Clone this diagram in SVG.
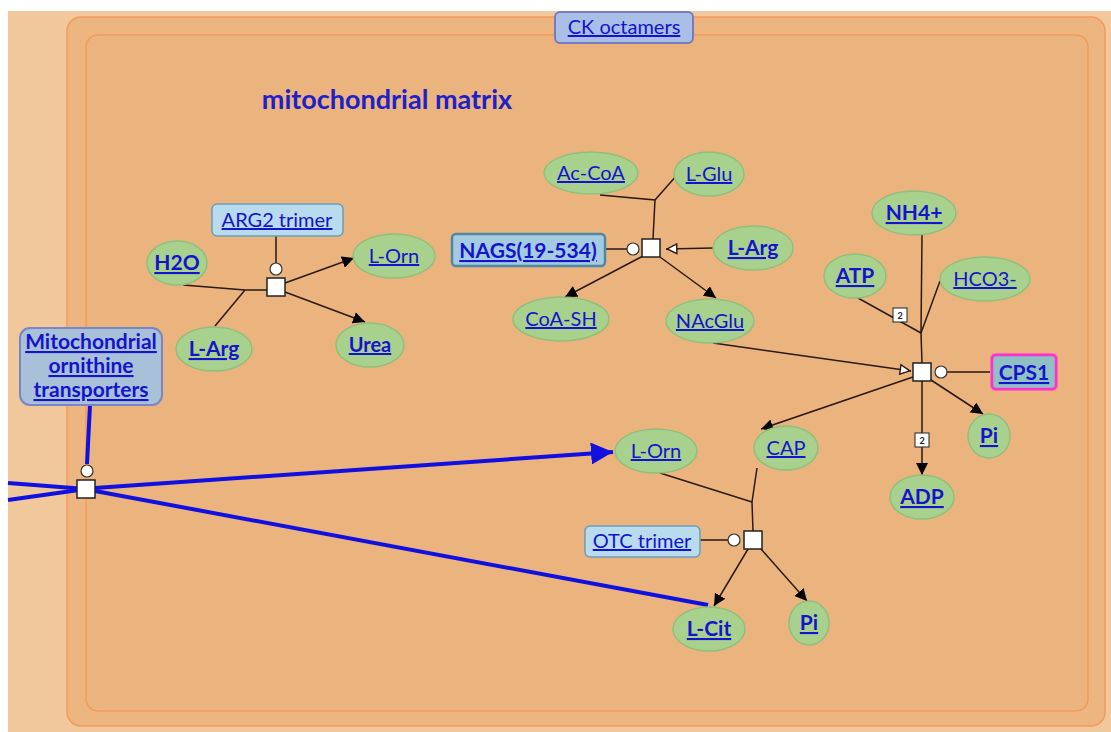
<svg xmlns="http://www.w3.org/2000/svg" width="1111" height="732" viewBox="0 0 1111 732">
  <style>
    text { font-family: Lato, "Liberation Sans", sans-serif; fill: #1414cc; text-decoration: underline; text-anchor: middle; font-size: 20px; }
    .b { font-weight: bold; font-size: 21px; }
    .sp { fill: #a9d18e; stroke: #8fbf7c; stroke-width: 1.5; }
    .cx { fill: #b9dbee; stroke: #6b9cb8; stroke-width: 1.5; }
    .pr { fill: #ffffff; stroke: #222222; stroke-width: 1.5; }
    .md { fill: #ffffff; stroke: #333333; stroke-width: 1.2; }
    .ln { stroke: #2a1a10; stroke-width: 1.5; fill: none; }
    .bl { stroke: #1010e0; stroke-width: 4; fill: none; }
    .st { fill: #ffffff; stroke: #222222; stroke-width: 1; }
    .stt { font-size: 9px; font-weight: bold; fill: #222222; text-decoration: none; }
  </style>
  <defs>
    <marker id="prod" viewBox="0 0 10 10" refX="10" refY="5" markerWidth="12" markerHeight="12" markerUnits="userSpaceOnUse" orient="auto">
      <path d="M0,0 L10,5 L0,10 Z" fill="#000000"/>
    </marker>
    <marker id="inh" viewBox="0 0 10 10" refX="10" refY="5" markerWidth="12" markerHeight="12" markerUnits="userSpaceOnUse" orient="auto">
      <path d="M1,1 L9,5 L1,9 Z" fill="#ffffff" stroke="#2a1a10" stroke-width="1.2"/>
    </marker>
    <marker id="blue" viewBox="0 0 10 10" refX="10" refY="5" markerWidth="22" markerHeight="22" markerUnits="userSpaceOnUse" orient="auto">
      <path d="M0,0 L10,5 L0,10 Z" fill="#1010e0"/>
    </marker>
  </defs>

  <!-- page -->
  <rect x="0" y="0" width="1111" height="732" fill="#ffffff"/>
  <rect x="8" y="11" width="1103" height="721" fill="#f0c89b"/>

  <!-- compartments -->
  <rect x="67" y="17" width="1038" height="709" rx="14" fill="#edb680" stroke="#f29a5c" stroke-width="1.5"/>
  <rect x="86" y="35" width="1002" height="676" rx="12" fill="#ebb47e" stroke="#f29a5c" stroke-width="1.5"/>
  <text x="387" y="109" class="b" style="font-size:27px;text-decoration:none;fill:#2020c8">mitochondrial matrix</text>

  <g id="ck-octamers">
    <rect x="555" y="12" width="138" height="31" rx="5" fill="#a9bfe6" stroke="#7a7ac0" stroke-width="2"/>
    <text x="624" y="34">CK octamers</text>
  </g>

  <!-- connectors -->
  <g id="connectors">
    <!-- ARG2 reaction -->
    <line class="ln" x1="276" y1="236" x2="276" y2="263"/>
    <polyline class="ln" points="183,285 245,290 267,290"/>
    <line class="ln" x1="215" y1="326" x2="245" y2="290"/>
    <line class="ln" x1="285" y1="283" x2="354" y2="258" marker-end="url(#prod)"/>
    <line class="ln" x1="285" y1="292" x2="365" y2="322" marker-end="url(#prod)"/>

    <!-- NAGS reaction -->
    <polyline class="ln" points="600,195 655,200 653,239"/>
    <line class="ln" x1="677" y1="175" x2="655" y2="200"/>
    <line class="ln" x1="605" y1="249" x2="627" y2="249"/>
    <line class="ln" x1="713" y1="248" x2="666" y2="249" marker-end="url(#inh)"/>
    <line class="ln" x1="643" y1="256" x2="565" y2="297" marker-end="url(#prod)"/>
    <line class="ln" x1="660" y1="257" x2="716" y2="298" marker-end="url(#prod)"/>

    <!-- CPS1 reaction -->
    <line class="ln" x1="922" y1="235" x2="921" y2="333"/>
    <line class="ln" x1="940" y1="281" x2="921" y2="333"/>
    <line class="ln" x1="858" y1="298" x2="921" y2="333"/>
    <line class="ln" x1="921" y1="333" x2="922" y2="363"/>
    <line class="ln" x1="713" y1="343" x2="911" y2="371" marker-end="url(#inh)"/>
    <line class="ln" x1="947" y1="372" x2="990" y2="372"/>
    <line class="ln" x1="913" y1="377" x2="761" y2="429" marker-end="url(#prod)"/>
    <line class="ln" x1="922" y1="381" x2="922" y2="475" marker-end="url(#prod)"/>
    <line class="ln" x1="931" y1="380" x2="983" y2="414" marker-end="url(#prod)"/>

    <!-- OTC reaction -->
    <polyline class="ln" points="757,468 752,502 753,531"/>
    <line class="ln" x1="660" y1="473" x2="752" y2="502"/>
    <line class="ln" x1="700" y1="540" x2="728" y2="540"/>
    <line class="ln" x1="748" y1="549" x2="714" y2="606" marker-end="url(#prod)"/>
    <line class="ln" x1="761" y1="549" x2="807" y2="601" marker-end="url(#prod)"/>

    <!-- ornithine / citrulline transport -->
    <line class="bl" x1="90" y1="405" x2="87" y2="464"/>
    <line class="bl" x1="8" y1="483" x2="86" y2="489"/>
    <line class="bl" x1="8" y1="500" x2="86" y2="489"/>
    <line class="bl" x1="95" y1="488" x2="613" y2="452" marker-end="url(#blue)"/>
    <line class="bl" x1="95" y1="491" x2="708" y2="605"/>
  </g>

  <!-- stoichiometry tags -->
  <g id="stoich">
    <rect class="st" x="893" y="308" width="14" height="14"/>
    <text class="stt" x="900" y="318.5">2</text>
    <rect class="st" x="915" y="433" width="14" height="14"/>
    <text class="stt" x="922" y="443.5">2</text>
  </g>

  <!-- process nodes and modifiers -->
  <g id="proc-arg2"><circle class="md" cx="276" cy="269" r="6"/><rect class="pr" x="267" y="278" width="18" height="18"/></g>
  <g id="proc-nags"><circle class="md" cx="633" cy="249" r="6"/><rect class="pr" x="642" y="239" width="18" height="18"/></g>
  <g id="proc-cps1"><circle class="md" cx="941" cy="372" r="6"/><rect class="pr" x="913" y="363" width="18" height="18"/></g>
  <g id="proc-otc"><circle class="md" cx="734" cy="540" r="6"/><rect class="pr" x="744" y="531" width="18" height="18"/></g>
  <g id="proc-transport"><circle class="md" cx="87" cy="471" r="6"/><rect class="pr" x="77" y="480" width="18" height="18"/></g>

  <!-- complexes / proteins -->
  <g id="arg2-trimer">
    <rect class="cx" x="212" y="204" width="131" height="32" rx="5"/>
    <text x="277" y="227">ARG2 trimer</text>
  </g>
  <g id="nags">
    <rect x="452" y="234" width="153" height="32" rx="4" fill="#a4cbe0" stroke="#4f88a4" stroke-width="2.5"/>
    <text x="528" y="258" class="b">NAGS(19-534)</text>
  </g>
  <g id="cps1">
    <rect x="990" y="353" width="68" height="38" rx="5" fill="#ff40d8" opacity="0.45"/>
    <rect x="992" y="355" width="64" height="34" rx="4" fill="#8fc0c4" stroke="#ff30d0" stroke-width="2.5"/>
    <text x="1024" y="380" class="b">CPS1</text>
  </g>
  <g id="otc-trimer">
    <rect class="cx" x="585" y="526" width="115" height="31" rx="5"/>
    <text x="642" y="548">OTC trimer</text>
  </g>
  <g id="orn-transporters">
    <rect x="20" y="328" width="142" height="77" rx="10" fill="#a9c0d9" stroke="#7a86c4" stroke-width="2"/>
    <text x="91" y="349" class="b">Mitochondrial</text>
    <text x="91" y="373" class="b">ornithine</text>
    <text x="91" y="397" class="b">transporters</text>
  </g>

  <!-- simple chemicals -->
  <g id="h2o"><ellipse class="sp" cx="177" cy="263" rx="30" ry="22"/><text x="177" y="270" class="b">H2O</text></g>
  <g id="l-arg-1"><ellipse class="sp" cx="214" cy="349" rx="38" ry="22"/><text x="214" y="356" class="b">L-Arg</text></g>
  <g id="l-orn-1"><ellipse class="sp" cx="394" cy="256" rx="41" ry="22"/><text x="394" y="263">L-Orn</text></g>
  <g id="urea"><ellipse class="sp" cx="370" cy="345" rx="34" ry="22"/><text x="370" y="352" class="b" style="font-size:20px">Urea</text></g>

  <g id="ac-coa"><ellipse class="sp" cx="591" cy="173" rx="47" ry="21"/><text x="591" y="180">Ac-CoA</text></g>
  <g id="l-glu"><ellipse class="sp" cx="709" cy="174" rx="35" ry="22"/><text x="709" y="181">L-Glu</text></g>
  <g id="l-arg-2"><ellipse class="sp" cx="753" cy="248" rx="40" ry="22"/><text x="753" y="255" class="b">L-Arg</text></g>
  <g id="coa-sh"><ellipse class="sp" cx="561" cy="319" rx="48" ry="22"/><text x="561" y="326">CoA-SH</text></g>
  <g id="nacglu"><ellipse class="sp" cx="710" cy="321" rx="44" ry="22"/><text x="710" y="328">NAcGlu</text></g>

  <g id="nh4"><ellipse class="sp" cx="914" cy="213" rx="42" ry="22"/><text x="914" y="220" class="b">NH4+</text></g>
  <g id="atp"><ellipse class="sp" cx="855" cy="276" rx="31" ry="22"/><text x="855" y="283" class="b">ATP</text></g>
  <g id="hco3"><ellipse class="sp" cx="985" cy="279" rx="45" ry="22"/><text x="985" y="286">HCO3-</text></g>
  <g id="pi-1"><ellipse class="sp" cx="989" cy="436" rx="21" ry="22"/><text x="989" y="443" class="b">Pi</text></g>
  <g id="adp"><ellipse class="sp" cx="922" cy="497" rx="32" ry="22"/><text x="922" y="504" class="b">ADP</text></g>
  <g id="cap"><ellipse class="sp" cx="786" cy="448" rx="32" ry="22"/><text x="786" y="455">CAP</text></g>

  <g id="l-orn-2"><ellipse class="sp" cx="656" cy="451" rx="41" ry="22"/><text x="656" y="458">L-Orn</text></g>
  <g id="l-cit"><ellipse class="sp" cx="709" cy="629" rx="36" ry="22"/><text x="709" y="636" class="b">L-Cit</text></g>
  <g id="pi-2"><ellipse class="sp" cx="809" cy="623" rx="20" ry="22"/><text x="809" y="630" class="b">Pi</text></g>
</svg>
